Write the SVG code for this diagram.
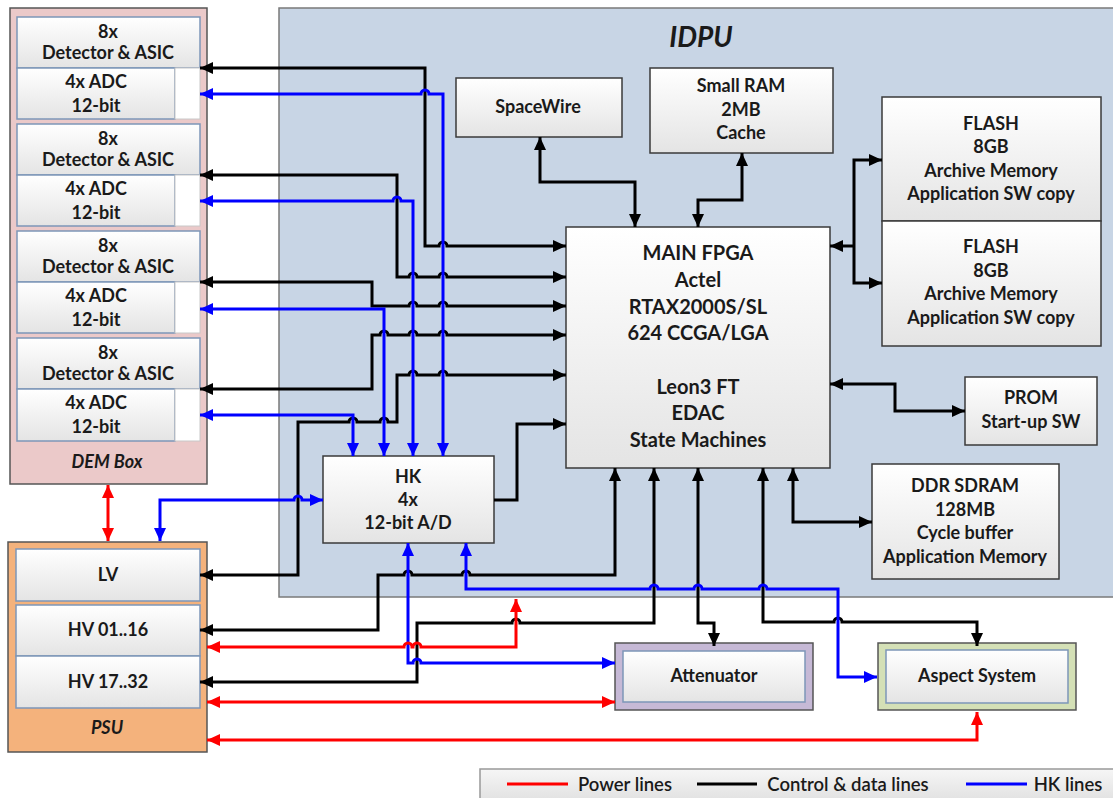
<svg xmlns="http://www.w3.org/2000/svg" width="1113" height="798" viewBox="0 0 1113 798">
<style>
.t{font-family:Lato,"Liberation Sans",sans-serif;font-weight:bold;font-size:18px;fill:#1a1a1a;text-anchor:middle}
.ti{font-style:italic}
.f{font-size:20px}
.box{fill:url(#g);stroke:#3a3a3a;stroke-width:1.5}
.dm{fill:url(#g);stroke:#7d96b8;stroke-width:1.5}
.k{fill:none;stroke:#000;stroke-width:3}
.b{fill:none;stroke:#0000ff;stroke-width:3}
.r{fill:none;stroke:#ff0000;stroke-width:3}
.k2{marker-start:url(#ak);marker-end:url(#ak)}
.b2{marker-start:url(#ab);marker-end:url(#ab)}
.r2{marker-start:url(#ar);marker-end:url(#ar)}
</style>
<defs>
<linearGradient id="g" x1="0" y1="0" x2="0" y2="1"><stop offset="0" stop-color="#ffffff"/><stop offset="1" stop-color="#e4e4e4"/></linearGradient>
<linearGradient id="lg" x1="0" y1="0" x2="0" y2="1"><stop offset="0" stop-color="#f6f6f6"/><stop offset="1" stop-color="#dcdcdc"/></linearGradient>
<marker id="ak" markerUnits="userSpaceOnUse" markerWidth="14" markerHeight="12" refX="13" refY="6" orient="auto-start-reverse"><path d="M0,0 L13,6 L0,12 z" fill="#000"/></marker>
<marker id="ab" markerUnits="userSpaceOnUse" markerWidth="14" markerHeight="12" refX="13" refY="6" orient="auto-start-reverse"><path d="M0,0 L13,6 L0,12 z" fill="#0000ff"/></marker>
<marker id="ar" markerUnits="userSpaceOnUse" markerWidth="14" markerHeight="12" refX="13" refY="6" orient="auto-start-reverse"><path d="M0,0 L13,6 L0,12 z" fill="#ff0000"/></marker>
</defs>
<rect width="1113" height="798" fill="#fff"/>

<g id="idpu">
<rect x="279" y="8" width="845" height="589" fill="#c8d5e5" stroke="#7a7a7a" stroke-width="1.5"/>
<text class="t ti" x="701" y="47" style="font-size:28px">IDPU</text>
</g>

<g id="dem-box">
<rect x="10" y="8" width="197" height="476" fill="#ebc9c9" stroke="#555" stroke-width="1.5"/>
<text class="t ti" x="107" y="468">DEM Box</text>
</g>
<g id="dem1">
<rect class="dm" x="17" y="17" width="183" height="51"/>
<rect class="dm" x="17" y="68" width="158" height="51"/>
<rect x="175" y="68" width="25" height="51" fill="#fff" stroke="#c8c8c8" stroke-width="1"/>
<text class="t" x="108" y="38">8x</text><text class="t" x="108" y="59">Detector &amp; ASIC</text>
<text class="t" x="96" y="88">4x ADC</text><text class="t" x="96" y="112">12-bit</text>
</g>
<g id="dem2">
<rect class="dm" x="17" y="124" width="183" height="51"/>
<rect class="dm" x="17" y="175" width="158" height="51"/>
<rect x="175" y="175" width="25" height="51" fill="#fff" stroke="#c8c8c8" stroke-width="1"/>
<text class="t" x="108" y="145">8x</text><text class="t" x="108" y="166">Detector &amp; ASIC</text>
<text class="t" x="96" y="195">4x ADC</text><text class="t" x="96" y="219">12-bit</text>
</g>
<g id="dem3">
<rect class="dm" x="17" y="231" width="183" height="51"/>
<rect class="dm" x="17" y="282" width="158" height="51"/>
<rect x="175" y="282" width="25" height="51" fill="#fff" stroke="#c8c8c8" stroke-width="1"/>
<text class="t" x="108" y="252">8x</text><text class="t" x="108" y="273">Detector &amp; ASIC</text>
<text class="t" x="96" y="302">4x ADC</text><text class="t" x="96" y="326">12-bit</text>
</g>
<g id="dem4">
<rect class="dm" x="17" y="338" width="183" height="51"/>
<rect class="dm" x="17" y="389" width="158" height="52"/>
<rect x="175" y="389" width="25" height="52" fill="#fff" stroke="#c8c8c8" stroke-width="1"/>
<text class="t" x="108" y="359">8x</text><text class="t" x="108" y="380">Detector &amp; ASIC</text>
<text class="t" x="96" y="409">4x ADC</text><text class="t" x="96" y="433">12-bit</text>
</g>

<g id="psu">
<rect x="8" y="542" width="199" height="210" fill="#f4b27c" stroke="#555" stroke-width="1.5"/>
<text class="t ti" x="107" y="734">PSU</text>
</g>
<g id="lv"><rect class="dm" x="16" y="549" width="184" height="52"/><text class="t" x="108" y="581">LV</text></g>
<g id="hv1"><rect class="dm" x="16" y="605" width="184" height="51"/><text class="t" x="108" y="636">HV 01..16</text></g>
<g id="hv2"><rect class="dm" x="16" y="656" width="184" height="52"/><text class="t" x="108" y="688">HV 17..32</text></g>

<g id="spacewire"><rect class="box" x="456" y="78" width="166" height="59"/><text class="t" x="538" y="113">SpaceWire</text></g>
<g id="smallram"><rect class="box" x="650" y="68" width="183" height="85"/>
<text class="t" x="741" y="92">Small RAM</text><text class="t" x="741" y="116">2MB</text><text class="t" x="741" y="139">Cache</text></g>
<g id="flash1"><rect class="box" x="882" y="97" width="219" height="124"/>
<text class="t" x="991" y="130">FLASH</text><text class="t" x="991" y="153">8GB</text><text class="t" x="991" y="177">Archive Memory</text><text class="t" x="991" y="200">Application SW copy</text></g>
<g id="flash2"><rect class="box" x="882" y="221" width="219" height="125"/>
<text class="t" x="991" y="253">FLASH</text><text class="t" x="991" y="277">8GB</text><text class="t" x="991" y="300">Archive Memory</text><text class="t" x="991" y="324">Application SW copy</text></g>
<g id="fpga"><rect class="box" x="566" y="227" width="264" height="241"/>
<text class="t f" x="698" y="260">MAIN FPGA</text><text class="t f" x="698" y="287">Actel</text><text class="t f" x="698" y="314">RTAX2000S/SL</text><text class="t f" x="698" y="340">624 CCGA/LGA</text>
<text class="t f" x="698" y="394">Leon3 FT</text><text class="t f" x="698" y="420">EDAC</text><text class="t f" x="698" y="447">State Machines</text></g>
<g id="prom"><rect class="box" x="965" y="377" width="132" height="68"/>
<text class="t" x="1031" y="404">PROM</text><text class="t" x="1031" y="428">Start-up SW</text></g>
<g id="ddr"><rect class="box" x="872" y="464" width="187" height="115"/>
<text class="t" x="965" y="492">DDR SDRAM</text><text class="t" x="965" y="516">128MB</text><text class="t" x="965" y="539">Cycle buffer</text><text class="t" x="965" y="563">Application Memory</text></g>
<g id="hk"><rect class="box" x="323" y="456" width="171" height="87"/>
<text class="t" x="408" y="483">HK</text><text class="t" x="408" y="506">4x</text><text class="t" x="408" y="529">12-bit A/D</text></g>
<g id="attenuator"><rect x="615" y="643" width="198" height="67" fill="#c6b9d6" stroke="#555" stroke-width="1.5"/>
<rect class="dm" x="623" y="651" width="182" height="51"/><text class="t" x="714" y="682">Attenuator</text></g>
<g id="aspect"><rect x="878" y="643" width="198" height="67" fill="#d4e0b6" stroke="#555" stroke-width="1.5"/>
<rect class="dm" x="886" y="650" width="182" height="53"/><text class="t" x="977" y="682">Aspect System</text></g>

<g id="connectors">
<path class="k k2" d="M200,68 H425 V246 H439 a4,4 0 0 1 8,0 H566"/>
<path class="k k2" d="M200,175 H397 V277 H409 a4,4 0 0 1 8,0 H439 a4,4 0 0 1 8,0 H566"/>
<path class="k k2" d="M200,282 H372 V306 H409 a4,4 0 0 1 8,0 H439 a4,4 0 0 1 8,0 H566"/>
<path class="k k2" d="M200,389 H372 V335 H380 a4,4 0 0 1 8,0 H409 a4,4 0 0 1 8,0 H439 a4,4 0 0 1 8,0 H566"/>
<path class="k k2" d="M200,575 H298 V422 H349 a4,4 0 0 1 8,0 H380 a4,4 0 0 1 8,0 H397 V375 H409 a4,4 0 0 1 8,0 H439 a4,4 0 0 1 8,0 H566"/>
<path class="k" style="marker-end:url(#ak)" d="M494,500 H517 V424 H566"/>
<path class="k k2" d="M540,137 V182 H635 V227"/>
<path class="k k2" d="M742,153 V200 H698 V227"/>
<path class="k k2" d="M882,160 H854 V283 H882"/>
<path class="k" style="marker-end:url(#ak)" d="M854,246 H830"/>
<path class="k k2" d="M830,384 H895 V411 H965"/>
<path class="k k2" d="M793,468 V522 H872"/>
<path class="k k2" d="M615,468 V575 H470 a4,4 0 0 0 -8,0 H412 a4,4 0 0 0 -8,0 H378 V630 H200"/>
<path class="k k2" d="M654,468 V623 H520 a4,4 0 0 0 -8,0 H417 V682 H200"/>
<path class="k k2" d="M698,468 V623 H714 V646"/>
<path class="k k2" d="M763,468 V622 H834 a4,4 0 0 1 8,0 H977 V646"/>

<path class="b b2" d="M200,94 H421 a4,4 0 0 1 8,0 H443 V456"/>
<path class="b b2" d="M200,201 H393 a4,4 0 0 1 8,0 H413 V456"/>
<path class="b b2" d="M200,309 H384 V456"/>
<path class="b b2" d="M200,415 H353 V456"/>
<path class="b b2" d="M160,541 V500 H294 a4,4 0 0 1 8,0 H323"/>
<path class="b b2" d="M408,543 V663 H413 a4,4 0 0 1 8,0 H615"/>
<path class="b b2" d="M466,543 V589 H650 a4,4 0 0 1 8,0 H694 a4,4 0 0 1 8,0 H759 a4,4 0 0 1 8,0 H838 V677 H877"/>

<path class="r r2" d="M108,485 V541"/>
<path class="r r2" d="M207,647 H404 a4,4 0 0 1 8,0 H413 a4,4 0 0 1 8,0 H516 V599"/>
<path class="r r2" d="M207,702 H615"/>
<path class="r r2" d="M207,740 H977 V712"/>
</g>

<g id="legend">
<rect x="480" y="769" width="640" height="40" fill="url(#lg)" stroke="#999" stroke-width="1.5"/>
<line x1="507" y1="784" x2="568" y2="784" stroke="#ff0000" stroke-width="3"/>
<text class="t" x="625" y="791" style="font-weight:600;font-size:18.5px">Power lines</text>
<line x1="697" y1="784" x2="757" y2="784" stroke="#000" stroke-width="3"/>
<text class="t" x="848" y="791" style="font-weight:600;font-size:18.5px">Control &amp; data lines</text>
<line x1="966" y1="784" x2="1027" y2="784" stroke="#0000ff" stroke-width="3"/>
<text class="t" x="1068" y="791" style="font-weight:600;font-size:18.5px">HK lines</text>
</g>
</svg>
